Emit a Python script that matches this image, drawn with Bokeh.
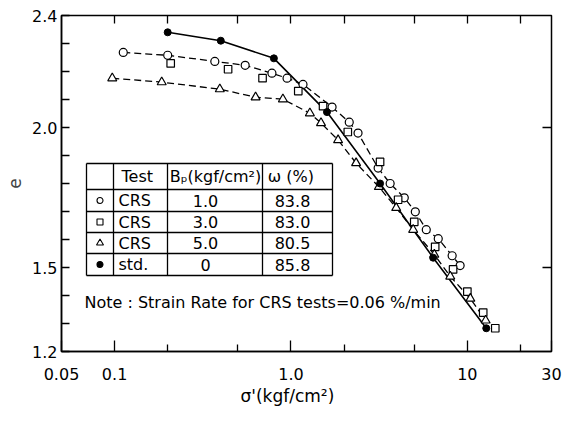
import numpy as np
from bokeh.plotting import figure
from bokeh.models import LogAxis, LinearAxis, FixedTicker, Title
from bokeh.core.properties import value
from bokeh.embed import file_html
from bokeh.resources import INLINE

FONT = "DejaVu Sans"

# ---------------- data ----------------
std_sigma = [0.2, 0.4, 0.8, 1.6, 3.2, 6.4, 12.8]
std_e = [2.340, 2.310, 2.247, 2.055, 1.800, 1.535, 1.283]

crs1_sigma = [0.112, 0.20, 0.37, 0.55, 0.78, 0.95, 1.17, 1.71, 2.14, 2.40,
              3.12, 3.65, 4.39, 5.07, 5.85, 6.84, 8.2, 9.1]
crs1_e = [2.268, 2.258, 2.236, 2.222, 2.194, 2.176, 2.154, 2.073, 2.019, 1.980,
          1.855, 1.800, 1.749, 1.699, 1.635, 1.603, 1.542, 1.507]

crs3_sigma = [0.208, 0.44, 0.69, 1.10, 1.52, 2.10, 3.20, 4.05, 5.00, 6.57,
              8.3, 10.0, 12.3, 14.4]
crs3_e = [2.229, 2.208, 2.176, 2.130, 2.076, 1.984, 1.877, 1.742, 1.663, 1.574,
          1.493, 1.414, 1.339, 1.283]

crs5_sigma = [0.097, 0.185, 0.395, 0.63, 0.90, 1.28, 1.48, 1.85, 2.34, 3.15,
              3.95, 4.93, 6.5, 8.0, 10.4, 12.7]
crs5_e = [2.176, 2.162, 2.137, 2.108, 2.101, 2.051, 2.016, 1.955, 1.873, 1.788,
          1.713, 1.635, 1.546, 1.468, 1.389, 1.311]

x_major = [0.05, 0.1, 1.0, 10.0, 30.0]
x_major_labels = ["0.05", "0.1", "1.0", "10", "30"]
x_minor = [0.2, 0.5, 2.0, 5.0, 20.0]
y_major = [1.2, 1.5, 2.0, 2.4]
y_major_labels = ["1.2", "1.5", "2.0", "2.4"]
y_minor = [1.3, 1.4, 1.6, 1.7, 1.8, 1.9, 2.1, 2.2, 2.3]

table_test = ["CRS", "CRS", "CRS", "std."]
table_bp = ["1.0", "3.0", "5.0", "0"]
table_w = ["83.8", "83.0", "80.5", "85.8"]
table_markers = ["circle", "square", "triangle", "circle"]
table_fill = ["white", "white", "white", "black"]

# ---------------- figure ----------------
XMIN, XMAX, YMIN, YMAX = 0.05, 30.0, 1.2, 2.4
FL, FT, FW, FH = 61, 15, 490, 336   # frame geometry in canvas px

p = figure(x_axis_type="log", x_range=(XMIN, XMAX), y_range=(YMIN, YMAX),
           frame_width=FW, frame_height=FH,
           min_border_left=FL, min_border_right=12, min_border_top=FT,
           min_border_bottom=56,
           output_backend="svg", toolbar_location=None)
p.background_fill_color = "white"
p.border_fill_color = "white"
p.outline_line_color = "black"
p.outline_line_width = 1.5
p.xgrid.visible = False
p.ygrid.visible = False

LOGSPAN = np.log10(XMAX / XMIN)
REF_FL, REF_FT = 61, 15   # frame corner in reference pixels (for table layout)


def xd(px):
    return XMIN * 10 ** ((px - REF_FL) / FW * LOGSPAN)


def yd(py):
    return YMAX - (py - REF_FT) / FH * (YMAX - YMIN)


# bottom axis
xa = p.xaxis[0]
xa.ticker = FixedTicker(ticks=x_major, minor_ticks=x_minor)
xa.major_label_overrides = {float(k): v for k, v in zip(x_major, x_major_labels)}
xa.major_tick_in = 11
xa.major_tick_out = 0
xa.minor_tick_in = 7
xa.minor_tick_out = 0
xa.major_label_standoff = 16
xa.major_label_text_font = FONT
xa.major_label_text_font_size = "16px"
xa.major_label_text_color = "black"
xa.axis_line_width = 1.5
xa.major_tick_line_width = 1.3
xa.minor_tick_line_width = 1.3

# left axis
ya = p.yaxis[0]
ya.ticker = FixedTicker(ticks=y_major, minor_ticks=y_minor)
ya.major_label_overrides = {float(k): v for k, v in zip(y_major, y_major_labels)}
ya.major_tick_in = 8
ya.major_tick_out = 0
ya.minor_tick_in = 8
ya.minor_tick_out = 0
ya.major_label_standoff = 4
ya.major_label_text_font = FONT
ya.major_label_text_font_size = "16px"
ya.major_label_text_color = "black"
ya.axis_label = "e"
ya.axis_label_text_font = FONT
ya.axis_label_text_font_size = "17px"
ya.axis_label_text_font_style = "normal"
ya.axis_label_standoff = 8
ya.axis_line_width = 1.5
ya.major_tick_line_width = 1.3
ya.minor_tick_line_width = 1.3

# top axis (ticks only)
top = LogAxis(ticker=FixedTicker(ticks=[0.1, 1.0, 10.0], minor_ticks=x_minor),
              major_tick_in=8, major_tick_out=0, minor_tick_in=8, minor_tick_out=0,
              major_label_text_font_size="0px", major_label_standoff=0,
              axis_line_color=None, major_tick_line_width=1.3,
              minor_tick_line_width=1.3)
top.major_label_overrides = {0.1: "", 1.0: "", 10.0: ""}
p.add_layout(top, "above")

# right axis (ticks only)
right = LinearAxis(ticker=FixedTicker(ticks=[1.5, 2.0], minor_ticks=[]),
                   major_tick_in=9, major_tick_out=0, minor_tick_in=0,
                   minor_tick_out=0, major_label_text_font_size="0px",
                   major_label_standoff=0, axis_line_color=None,
                   major_tick_line_width=1.3)
right.major_label_overrides = {1.5: "", 2.0: ""}
p.add_layout(right, "right")

# x axis title (placed under the 1.0 tick as in the original)
p.add_layout(Title(text="σ'(kgf/cm²)", align="left", offset=179, standoff=2,
                   text_font=FONT, text_font_size="17px", text_font_style="normal",
                   text_color="black"), "below")

# ---------------- data marks ----------------
DASH = "7 4"
p.line(crs1_sigma, crs1_e, line_color="black", line_width=1.3, line_dash=DASH)
p.line(crs5_sigma, crs5_e, line_color="black", line_width=1.3, line_dash=DASH)
p.line(std_sigma, std_e, line_color="black", line_width=1.6)

p.scatter(crs1_sigma, crs1_e, marker="circle", size=8, fill_color="white",
          line_color="black", line_width=1.2)
p.scatter(crs3_sigma, crs3_e, marker="square", size=7.5, fill_color="white",
          line_color="black", line_width=1.2)
p.scatter(crs5_sigma, crs5_e, marker="triangle", size=9, fill_color="white",
          line_color="black", line_width=1.2)
p.scatter(std_sigma, std_e, marker="circle", size=7, fill_color="black",
          line_color="black", line_width=1)

# ---------------- table ----------------
rows_py = [163, 189, 211, 232, 253, 275]
cols_px = [86, 113, 167, 262, 332]
p.quad(left=[xd(cols_px[0])], right=[xd(cols_px[-1])], top=[yd(rows_py[0])],
       bottom=[yd(rows_py[-1])], fill_color="white", line_color=None)
p.segment(x0=[xd(cols_px[0])] * len(rows_py), x1=[xd(cols_px[-1])] * len(rows_py),
          y0=[yd(r) for r in rows_py], y1=[yd(r) for r in rows_py],
          line_color="black", line_width=1.3)
p.segment(x0=[xd(c) for c in cols_px], x1=[xd(c) for c in cols_px],
          y0=[yd(rows_py[0])] * len(cols_px), y1=[yd(rows_py[-1])] * len(cols_px),
          line_color="black", line_width=1.3)

row_mid = [(rows_py[i] + rows_py[i + 1]) / 2 for i in range(len(rows_py) - 1)]
body_y = [yd(v) for v in row_mid[1:]]

p.scatter([xd(99.5)] * 4, body_y, marker=table_markers, size=[6, 6, 7, 6],
          fill_color=table_fill, line_color="black", line_width=1.1)

txt = dict(text_font=value(FONT), text_font_size="16px", text_color="black",
           text_baseline="middle")
p.text(x=[xd(121)], y=[yd(row_mid[0])], text=["Test"], text_align="left", **txt)
p.text(x=[xd(215)], y=[yd(row_mid[0])], text=["Bₚ(kgf/cm²)"], text_align="center", **txt)
p.text(x=[xd(293)], y=[yd(row_mid[0])], text=["ω  (%)"], text_align="center", **txt)
p.text(x=[xd(118)] * 4, y=body_y, text=table_test, text_align="left", **txt)
p.text(x=[xd(205)] * 4, y=body_y, text=table_bp, text_align="center", **txt)
p.text(x=[xd(292)] * 4, y=body_y, text=table_w, text_align="center", **txt)

p.text(x=[xd(84)], y=[yd(302)], text=["Note : Strain Rate for  CRS tests=0.06 %/min"],
       text_align="left", **txt)

open("out.html", "w").write(file_html(p, INLINE))
